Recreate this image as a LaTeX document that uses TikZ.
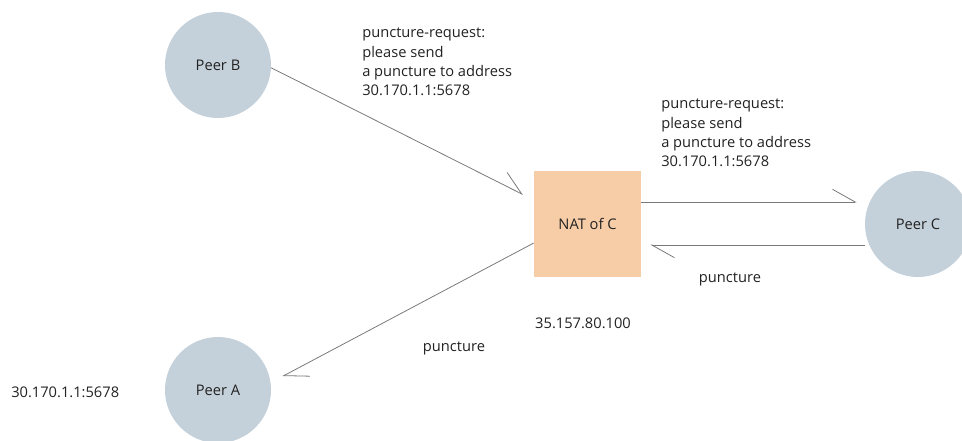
\documentclass[tikz,border=0pt]{standalone}
\usepackage{fontspec}
\setmainfont{Open Sans}
\usepackage{tikz}
\usetikzlibrary{arrows.meta}
\usetikzlibrary{positioning}

\definecolor{peerfill}{HTML}{C5D1DA}
\definecolor{natfill}{HTML}{F7CDA8}
\definecolor{linegray}{HTML}{7A7A7A}
\definecolor{textdark}{HTML}{222222}

\tikzset{
    peer/.style={circle, fill=peerfill, minimum size=106*0.75pt, inner sep=0pt},
    natbox/.style={rectangle, fill=natfill, minimum width=107*0.75pt, minimum height=106*0.75pt, inner sep=0pt},
    label text/.style={align=left, inner sep=0pt, anchor=west},
    arr/.style={draw=linegray, line width=0.6pt,
        -{Straight Barb[harpoon, length=17pt, width=19pt, line width=0.6pt]}}
}

\begin{document}
\begin{tikzpicture}[x=0.75pt, y=-0.75pt,
    every node/.style={font=\fontsize{11pt}{14.4pt}\selectfont, text=textdark}]

    \useasboundingbox (0,0) rectangle (962,440);
    \clip (0,0) rectangle (962,440);

    % Peers and NAT
    \node[peer] (pb) at (218,65) {Peer B};
    \node[peer] (pa) at (218,390) {Peer A};
    \node[peer] (pc) at (918,224) {Peer C};
    \node[natbox] (nat) at (587.5,224) {NAT of C};

    % Addresses
    \node[label text] (addra) at (11,392) {30.170.1.1:5678};
    \node[anchor=center, inner sep=0pt] (addrnat) at (583,323) {35.157.80.100};

    % Puncture requests
    \node[label text] (reqb) at (362,62) {puncture-request:\\please send\\a puncture to address\\30.170.1.1:5678};
    \node[label text] (reqc) at (661,133) {puncture-request:\\please send\\a puncture to address\\30.170.1.1:5678};

    % Punctures
    \node[inner sep=0pt] (puncc) at (730,279) {puncture};
    \node[inner sep=0pt] (punca) at (454,348) {puncture};

    % Connectors
    \draw[arr, shorten >=9pt] (pb.-3) -- ([yshift=18pt]nat.west);
    \draw[arr, shorten >=6pt] ([yshift=16.5pt]nat.east) -- ([yshift=16.5pt]pc.west);
    \draw[arr, shorten >=6.75pt] ([yshift=-15.75pt]pc.west) -- ([yshift=-15.75pt]nat.east);
    \draw[arr, shorten >=10pt] ([yshift=-14.25pt]nat.west) -- (pa.8);

\end{tikzpicture}
\end{document}
